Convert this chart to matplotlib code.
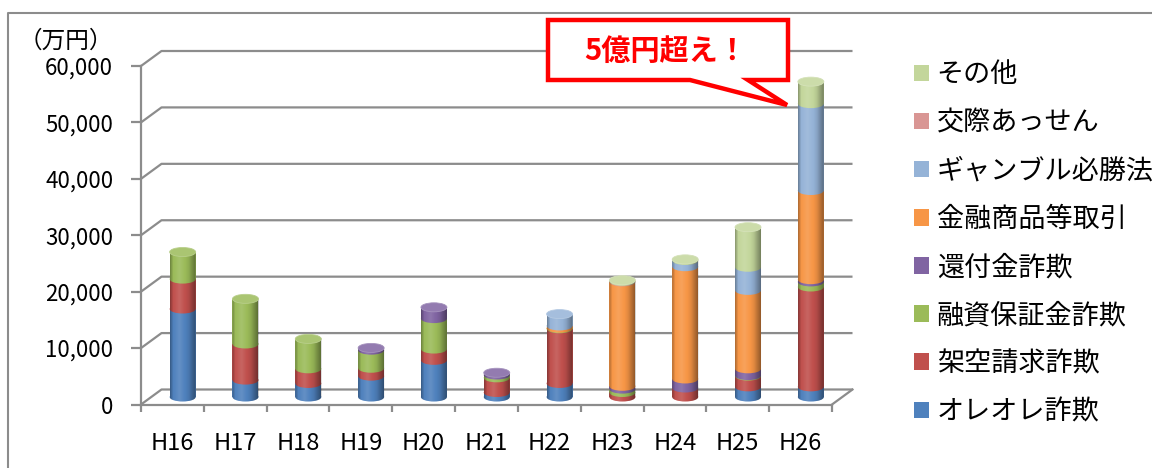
import numpy as np
import matplotlib
matplotlib.use('Agg')
import matplotlib.pyplot as plt
from matplotlib.patches import Ellipse, Polygon, Patch, PathPatch
from matplotlib.path import Path
from matplotlib.lines import Line2D
import matplotlib.colors as mcolors

plt.rcParams['font.family'] = ['Noto Sans CJK JP', 'DejaVu Sans']

# data (万円)
years = ['H16', 'H17', 'H18', 'H19', 'H20', 'H21', 'H22', 'H23', 'H24', 'H25', 'H26']
series_names = ['オレオレ詐欺', '架空請求詐欺', '融資保証金詐欺', '還付金詐欺',
                '金融商品等取引', 'ギャンブル必勝法', '交際あっせん', 'その他']
oreore = [15600, 3000, 2400, 3700, 6500, 800, 2400, 0, 0, 1800, 1800]
kakuu = [5300, 6400, 2600, 1400, 2000, 2600, 9700, 800, 1600, 1900, 17700]
yushi = [4800, 8000, 5300, 3200, 5400, 500, 100, 600, 0, 100, 900]
kanpu = [0, 0, 0, 400, 2000, 400, 0, 500, 1600, 1200, 400]
kinyu = [0, 0, 0, 0, 0, 0, 400, 18500, 19900, 13900, 15800]
gamble = [0, 0, 0, 0, 0, 0, 2100, 0, 1100, 4100, 15400]
kousai = [0, 0, 0, 0, 0, 0, 0, 100, 0, 0, 0]
sonota = [0, 0, 0, 0, 0, 0, 0, 200, 200, 7100, 3900]
yticks = [0, 10000, 20000, 30000, 40000, 50000, 60000]

series = [oreore, kakuu, yushi, kanpu, kinyu, gamble, kousai, sonota]
colors = ['#4F81BD', '#C0504D', '#9BBB59', '#8064A2',
          '#F79646', '#95B3D7', '#D99694', '#C3D69B']

W, H = 1152, 468
GRID = '#8c8c8c'


def fx(x):
    return x / W


def fy(y):
    return 1 - y / H


fig = plt.figure(figsize=(W / 100, H / 100), dpi=100)
ax = fig.add_axes([fx(141), fy(404.5), 691 / W, 338.5 / H])
ax.set_xlim(-0.5, 10.5)
ax.set_ylim(0, 60000)

# pseudo 3D depth of the floor / back wall
dx = 20.5 / 62.8
dy = 15 * 60000 / 338.5
x0, x1 = -0.5, 10.5

# back wall gridlines
for v in yticks:
    ax.plot([x0, x0 + dx, x1 + dx], [v, v + dy, v + dy], color=GRID, lw=1.6,
            clip_on=False, zorder=1, solid_capstyle='butt')
# floor
ax.plot([x1, x1 + dx], [0, dy], color=GRID, lw=1.6, clip_on=False, zorder=1)

for side in ['top', 'right']:
    ax.spines[side].set_visible(False)
for side in ['left', 'bottom']:
    ax.spines[side].set_color(GRID)
    ax.spines[side].set_linewidth(1.6)

ax.set_yticks(yticks)
ax.set_yticklabels([f'{v:,}' for v in yticks], fontsize=16)
ax.tick_params(axis='y', length=7, width=1.6, color=GRID, pad=13)
ax.set_xticks(range(len(years)))
ax.set_xticklabels(years, fontsize=17)
ax.set_xticks(np.arange(-0.5, 11, 1), minor=True)
ax.tick_params(axis='x', which='major', length=0, pad=20)
ax.tick_params(axis='x', which='minor', length=5, width=1.6, color=GRID)

# cylinders
bw = 0.414
eh = 1600
base = dy / 2
shade_t = np.linspace(0, 1, 64)
lum = np.interp(shade_t, [0, 0.12, 0.35, 0.7, 1], [-0.3, 0.0, 0.12, -0.08, -0.45])
grad = np.zeros((1, 64, 4))
grad[0, :, :3] = (lum > 0)[:, None] * 1.0
grad[0, :, 3] = np.abs(lum)


def lighten(c, f):
    r = np.array(mcolors.to_rgb(c))
    return tuple(r + (1 - r) * f)


for i in range(len(years)):
    xc = i + dx / 2
    bottom = base
    top_color = None
    for vals, col in zip(series, colors):
        h = vals[i]
        if h <= 0:
            continue
        ax.bar(xc, h, bottom=bottom, width=bw, color=col, linewidth=0, zorder=3)
        ax.add_patch(Ellipse((xc, bottom), bw, eh, facecolor=col, edgecolor='none', zorder=3))
        bottom += h
        top_color = col
    # silhouette for shading
    xs = np.linspace(xc - bw / 2, xc + bw / 2, 40)
    half = (eh / 2) * np.sqrt(np.clip(1 - ((xs - xc) / (bw / 2)) ** 2, 0, 1))
    verts = np.concatenate([
        np.column_stack([xs, bottom + half]),
        np.column_stack([xs[::-1], base - half[::-1]]),
    ])
    clip = PathPatch(Path(verts), transform=ax.transData, facecolor='none', edgecolor='none')
    ax.add_patch(clip)
    im = ax.imshow(grad, extent=[xc - bw / 2, xc + bw / 2, base - eh, bottom + eh],
                   aspect='auto', zorder=4, interpolation='bilinear')
    im.set_clip_path(clip)
    ax.add_patch(Ellipse((xc, bottom), bw, eh, facecolor=lighten(top_color, 0.15),
                         edgecolor=lighten(top_color, 0.3), lw=0.6, zorder=5))

ax.set_xlim(-0.5, 10.5)
ax.set_ylim(0, 60000)

# legend
handles = [Patch(facecolor=c, edgecolor='none') for c in colors][::-1]
fig.legend(handles, series_names[::-1], loc='upper left',
           bbox_to_anchor=(fx(914), fy(61.5)), frameon=False, fontsize=19.5,
           handlelength=0.56, handleheight=0.56, handletextpad=0.28,
           labelspacing=0.78, borderpad=0, borderaxespad=0)

# unit label
fig.text(fx(19), fy(41), '（万円）', fontsize=17, va='center', ha='left')

# callout
pts = [(548, 20), (788, 20), (788, 80), (748, 80), (787, 105), (690, 80), (548, 80)]
fig.patches.append(Polygon([(fx(a), fy(b)) for a, b in pts], closed=True,
                           transform=fig.transFigure, facecolor='white',
                           edgecolor='#FF0000', lw=3.2, joinstyle='miter', zorder=10))
fig.text(fx(666), fy(51), '5億円超え！', color='#FF0000', fontsize=21,
         fontweight='bold', ha='center', va='center', zorder=11)

# chart frame
fig.add_artist(Line2D([fx(8), fx(8), 1], [0, fy(13), fy(13)], color=GRID, lw=1.5))

fig.savefig('out.png', dpi=100)
